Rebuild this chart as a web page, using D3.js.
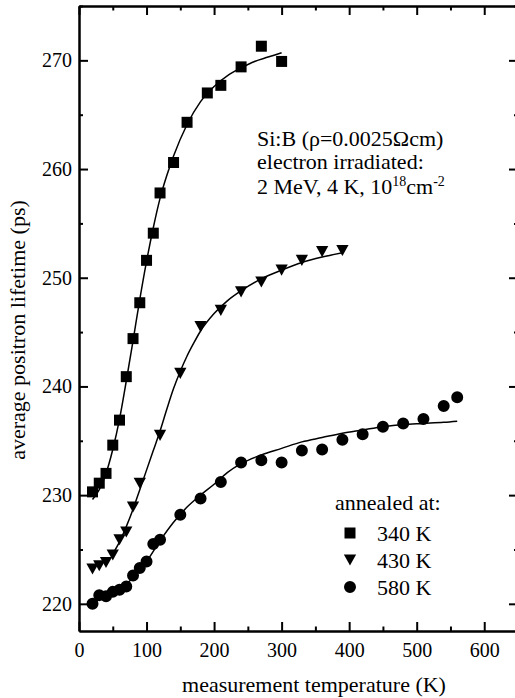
<!DOCTYPE html>
<html>
<head>
<meta charset="utf-8">
<script src="https://cdn.jsdelivr.net/npm/d3@7"></script>
<style>
  body { margin: 0; background: #fff; }
  text { font-family: "Liberation Serif", "Times New Roman", serif; fill: #000; }
</style>
</head>
<body>
<script>
// measured points, annealed at 340 K (squares)
let sqT = [20, 30, 40, 50, 60, 70, 80, 90, 100, 110, 120, 140, 160, 190, 210, 240, 270, 300];
let sqV = [230.3, 231.1, 232.0, 234.6, 236.9, 240.9, 244.4, 247.7, 251.6, 254.1, 257.8, 260.6, 264.3, 267.0, 267.7, 269.4, 271.3, 269.9];

// annealed at 430 K (down triangles)
let triT = [20, 30, 40, 50, 60, 70, 80, 90, 120, 150, 180, 210, 240, 270, 300, 330, 360, 390];
let triV = [223.2, 223.5, 223.8, 224.5, 225.9, 226.6, 228.9, 231.1, 235.5, 241.2, 245.5, 247.0, 248.7, 249.6, 250.7, 251.6, 252.4, 252.5];

// annealed at 580 K (circles)
let circT = [20, 30, 40, 50, 60, 70, 80, 90, 100, 110, 120, 150, 180, 210, 240, 270, 300, 330, 360, 390, 420, 450, 480, 510, 540, 560];
let circV = [220.0, 220.8, 220.7, 221.1, 221.3, 221.6, 222.6, 223.3, 223.9, 225.5, 225.9, 228.2, 229.7, 231.2, 233.0, 233.2, 233.0, 234.1, 234.2, 235.1, 235.6, 236.3, 236.6, 237.0, 238.2, 239.0];

// fitted curves
let fit340T = [20, 30, 40, 50, 60, 70, 80, 90, 100, 110, 120, 130, 140, 160, 180, 200, 220, 240, 260, 280, 300];
let fit340V = [229.6, 230.5, 232.0, 234.2, 237.0, 240.5, 244.2, 248.0, 251.5, 254.6, 257.3, 259.4, 261.2, 264.1, 266.2, 267.6, 268.6, 269.3, 269.9, 270.3, 270.7];

let fit430T = [50, 60, 70, 80, 90, 100, 110, 120, 130, 140, 150, 160, 170, 180, 200, 220, 240, 270, 300, 330, 360, 390];
let fit430V = [224.6, 225.7, 227.1, 228.7, 230.5, 232.3, 234.1, 235.9, 237.9, 239.8, 241.4, 242.8, 244.0, 245.1, 246.7, 247.9, 248.8, 249.9, 250.7, 251.4, 251.9, 252.3];

let fit580T = [20, 40, 60, 80, 100, 120, 140, 160, 180, 200, 220, 240, 270, 300, 330, 360, 390, 420, 450, 480, 510, 540, 560];
let fit580V = [220.2, 220.6, 221.3, 222.4, 223.9, 225.8, 227.5, 228.9, 230.0, 231.0, 232.1, 232.9, 233.7, 234.3, 234.9, 235.3, 235.7, 236.0, 236.3, 236.5, 236.6, 236.7, 236.8];

let xTicks = [0, 100, 200, 300, 400, 500, 600];
let yTicks = [220, 230, 240, 250, 260, 270];
let legendLabels = ['340 K', '430 K', '580 K'];

let width = 515;
let height = 698;
let plotLeft = 79, plotRight = 518, plotTop = 6, plotBottom = 631;

let x = d3.scaleLinear().domain([0, 650]).range([plotLeft, plotRight]);
let y = d3.scaleLinear().domain([217.5, 275]).range([plotBottom, plotTop]);

let svg = d3.select('body').append('svg')
    .attr('width', width)
    .attr('height', height);

let xMinor = d3.range(50, 650, 100);
let yMinor = d3.range(225, 276, 10);

function styleAxis(g) {
    g.attr('font-family', null).attr('font-size', null);
    g.select('.domain').attr('stroke-width', 2);
    g.selectAll('.tick line').attr('stroke-width', 2);
    g.selectAll('text').style('font-size', '20px');
}

// bottom
svg.append('g').attr('transform', `translate(0,${plotBottom})`)
    .call(d3.axisBottom(x).tickValues(xTicks).tickSizeInner(-9).tickSizeOuter(0).tickPadding(12))
    .call(styleAxis);
svg.append('g').attr('transform', `translate(0,${plotBottom})`)
    .call(d3.axisBottom(x).tickValues(xMinor).tickSizeInner(-4.5).tickSizeOuter(0).tickFormat(''))
    .call(styleAxis);
// top
svg.append('g').attr('transform', `translate(0,${plotTop})`)
    .call(d3.axisTop(x).tickValues(xTicks).tickSizeInner(-9).tickSizeOuter(0).tickFormat(''))
    .call(styleAxis);
svg.append('g').attr('transform', `translate(0,${plotTop})`)
    .call(d3.axisTop(x).tickValues(xMinor).tickSizeInner(-4.5).tickSizeOuter(0).tickFormat(''))
    .call(styleAxis);
// left
svg.append('g').attr('transform', `translate(${plotLeft},0)`)
    .call(d3.axisLeft(y).tickValues(yTicks).tickSizeInner(-9).tickSizeOuter(0).tickPadding(7))
    .call(styleAxis);
svg.append('g').attr('transform', `translate(${plotLeft},0)`)
    .call(d3.axisLeft(y).tickValues(yMinor).tickSizeInner(-4).tickSizeOuter(0).tickFormat(''))
    .call(styleAxis);
// right
svg.append('g').attr('transform', `translate(${plotRight},0)`)
    .call(d3.axisRight(y).tickValues(yTicks).tickSizeInner(-9).tickSizeOuter(0).tickFormat(''))
    .call(styleAxis);
svg.append('g').attr('transform', `translate(${plotRight},0)`)
    .call(d3.axisRight(y).tickValues(yMinor).tickSizeInner(-4).tickSizeOuter(0).tickFormat(''))
    .call(styleAxis);

// fit lines
let line = d3.line()
    .x(d => x(d[0]))
    .y(d => y(d[1]))
    .curve(d3.curveMonotoneX);

[[fit340T, fit340V], [fit430T, fit430V], [fit580T, fit580V]].forEach(f => {
    svg.append('path')
        .datum(f[0].map((t, i) => [t, f[1][i]]))
        .attr('d', line)
        .attr('fill', 'none')
        .attr('stroke', '#000')
        .attr('stroke-width', 1.5);
});

// down-pointing triangle, centred on its bounding box
let triDown = {
    draw(ctx, size) {
        let w = Math.sqrt(size * 2 / 0.9);
        let h = w * 0.9;
        ctx.moveTo(-w / 2, -h / 2);
        ctx.lineTo(w / 2, -h / 2);
        ctx.lineTo(0, h / 2);
        ctx.closePath();
    }
};

let series = [
    {t: sqT, v: sqV, sym: d3.symbol(d3.symbolSquare, 121)},
    {t: triT, v: triV, sym: d3.symbol(triDown, 68)},
    {t: circT, v: circV, sym: d3.symbol(d3.symbolCircle, 113)}
];

series.forEach(s => {
    svg.append('g').selectAll('path')
        .data(s.t.map((t, i) => [t, s.v[i]]))
        .enter()
        .append('path')
        .attr('d', s.sym)
        .attr('transform', d => `translate(${x(d[0])},${y(d[1])})`)
        .attr('fill', '#000');
});

// annotation
let note = svg.append('g').style('font-size', '22px');
note.append('text').attr('x', 257).attr('y', 146).text('Si:B (ρ=0.0025Ωcm)');
note.append('text').attr('x', 257).attr('y', 169).text('electron irradiated:');
let l3 = note.append('text').attr('x', 257).attr('y', 194);
l3.append('tspan').text('2 MeV, 4 K, 10');
l3.append('tspan').attr('dy', -8).style('font-size', '14px').text('18');
l3.append('tspan').attr('dy', 8).text('cm');
l3.append('tspan').attr('dy', -8).style('font-size', '14px').text('-2');

// legend
let legend = svg.append('g').style('font-size', '22px');
legend.append('text').attr('x', 335).attr('y', 510).text('annealed at:');
legend.selectAll('.item')
    .data(legendLabels)
    .enter()
    .append('g')
    .attr('transform', (d, i) => `translate(350,${533 + i * 27})`)
    .each(function (d, i) {
        let g = d3.select(this);
        g.append('path').attr('d', series[i].sym).attr('fill', '#000');
        g.append('text').attr('x', 27).attr('y', 8).text(d);
    });

// axis titles
svg.append('text')
    .attr('x', 314).attr('y', 692)
    .attr('text-anchor', 'middle')
    .style('font-size', '22px')
    .text('measurement temperature (K)');

svg.append('text')
    .attr('transform', 'translate(25,330) rotate(-90)')
    .attr('text-anchor', 'middle')
    .style('font-size', '22px')
    .text('average positron lifetime (ps)');
</script>
</body>
</html>
